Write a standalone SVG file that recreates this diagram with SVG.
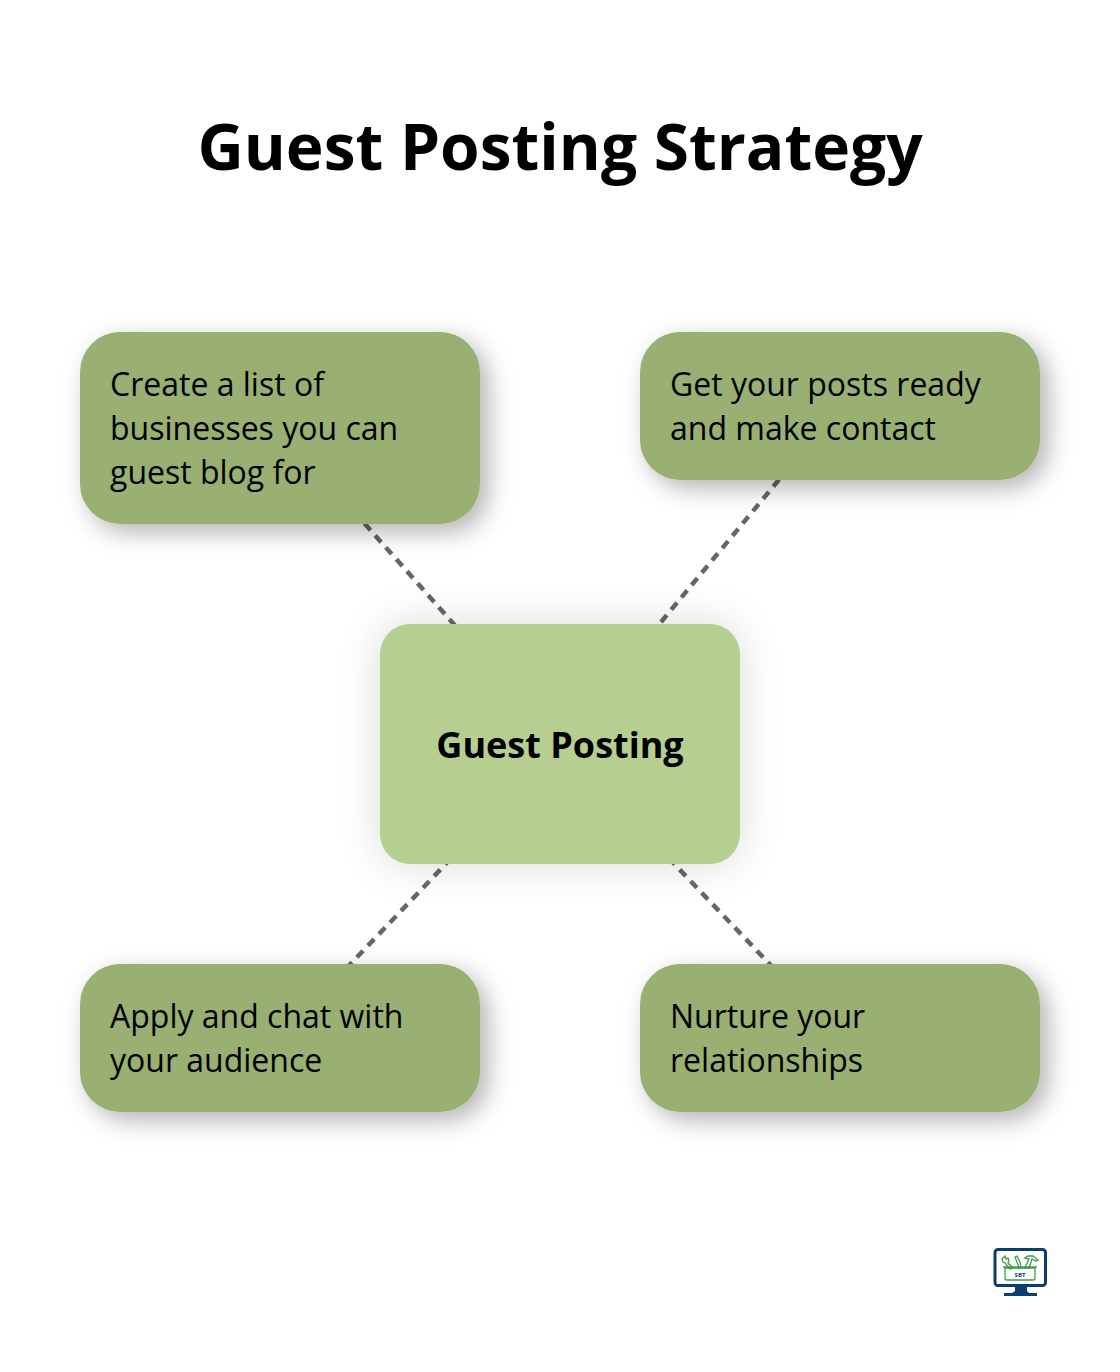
<svg xmlns="http://www.w3.org/2000/svg" width="1120" height="1372" viewBox="0 0 1120 1372">
<style>
text{font-family:"Open Sans","Noto Sans",sans-serif;fill:#000}
.t{font-size:32px}
.o{fill:#9aaf72}
.c{fill:#b6cf90}
.l{stroke:#666;stroke-width:4.500;stroke-dasharray:9 7;stroke-dashoffset:0.5;fill:none}
.g{fill:none;stroke:#3f9a4a;stroke-width:1.3}
.n{fill:#0b3d70}
</style>
<defs>
<filter id="s" x="-20%" y="-30%" width="140%" height="170%"><feDropShadow dx="8" dy="8" stdDeviation="12" flood-color="#000" flood-opacity="0.3"/></filter>
<filter id="s2" x="-30%" y="-30%" width="160%" height="160%"><feDropShadow dx="0" dy="0" stdDeviation="20" flood-color="#000" flood-opacity="0.15"/></filter>
</defs>
<rect width="1120" height="1372" fill="#fff"/>
<text id="title" x="560" y="170" font-size="64" font-weight="700" text-anchor="middle">Guest Posting Strategy</text>
<g id="connectors">
<line class="l" x1="280" y1="428" x2="560" y2="744"/>
<line class="l" x1="840" y1="406" x2="560" y2="744"/>
<line class="l" x1="280" y1="1038" x2="560" y2="744"/>
<line class="l" x1="840" y1="1038" x2="560" y2="744"/>
</g>
<g id="node-center"><rect class="c" x="380" y="624" width="360" height="240" rx="30" filter="url(#s2)"/>
<text x="560" y="758" font-size="36" font-weight="700" text-anchor="middle">Guest Posting</text></g>
<g id="node-list"><rect class="o" x="80" y="332" width="400" height="192" rx="40" filter="url(#s)"/>
<text class="t" x="110" y="396">Create a list of</text><text class="t" x="110" y="440">businesses you can</text><text class="t" x="110" y="484">guest blog for</text></g>
<g id="node-posts"><rect class="o" x="640" y="332" width="400" height="148" rx="40" filter="url(#s)"/>
<text class="t" x="670" y="396">Get your posts ready</text><text class="t" x="670" y="440">and make contact</text></g>
<g id="node-apply"><rect class="o" x="80" y="964" width="400" height="148" rx="40" filter="url(#s)"/>
<text class="t" x="110" y="1028">Apply and chat with</text><text class="t" x="110" y="1072">your audience</text></g>
<g id="node-nurture"><rect class="o" x="640" y="964" width="400" height="148" rx="40" filter="url(#s)"/>
<text class="t" x="670" y="1028">Nurture your</text><text class="t" x="670" y="1072">relationships</text></g>
<g id="logo">
<rect x="995" y="1249.500" width="50.500" height="36" rx="3" fill="#fff" stroke="#0b3d70" stroke-width="3"/>
<path class="n" d="M1015 1287h12v4l2 2h8v3h-33v-3h8l3-2z"/>
<path class="g" d="M1005 1268h30v10q0 2-2 2h-26q-2 0-2-2z"/>
<path class="g" stroke-width="2" d="M1003 1267h34"/>
<path class="g" d="M1002 1259l3-3 1 3 2-1 1 3-1 2 5 5-3 1-5-6-2-1zM1015 1257l2-1 3 6 1 6h-2l-2-6zM1025 1268l4-9-4-1 3-2h5l5 4-2 1-4-2-3 9z"/>
<text x="1020" y="1277" font-size="6" font-weight="700" text-anchor="middle" style="fill:#0b3d70">SBT</text>
</g>
</svg>
